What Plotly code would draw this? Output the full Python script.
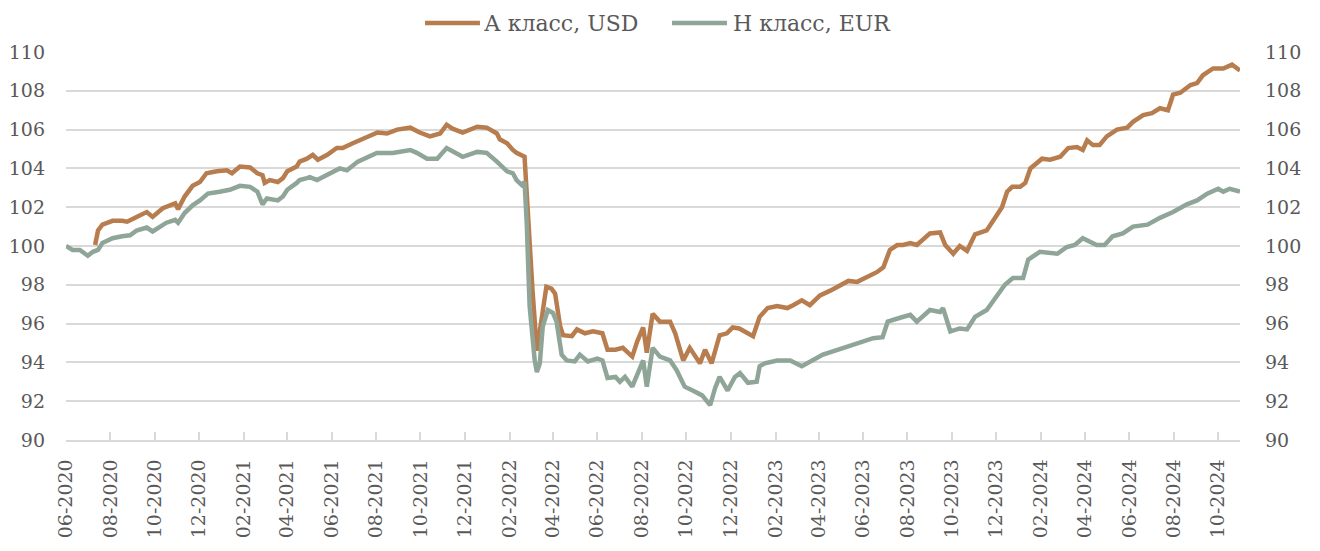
import plotly.graph_objects as go

# ---- data ----
a_dates = ["2020-07-11","2020-07-15","2020-07-21","2020-08-04","2020-08-17","2020-08-24","2020-09-06","2020-09-20","2020-09-28",
           "2020-10-12","2020-10-29","2020-11-02","2020-11-11","2020-11-22","2020-12-02","2020-12-11","2020-12-25",
           "2021-01-08","2021-01-15","2021-01-26","2021-02-09","2021-02-19","2021-02-26","2021-03-01","2021-03-08","2021-03-19","2021-03-26",
           "2021-04-01","2021-04-14","2021-04-18","2021-04-28","2021-05-06","2021-05-13","2021-05-26","2021-06-08","2021-06-16","2021-06-30",
           "2021-07-14","2021-08-03","2021-08-16","2021-08-30","2021-09-17","2021-09-30","2021-10-14","2021-10-28","2021-11-06","2021-11-14",
           "2021-11-28","2021-12-18","2021-12-31","2022-01-14","2022-01-18","2022-01-28","2022-02-05","2022-02-10","2022-02-21","2022-02-25",
           "2022-03-04","2022-03-10","2022-03-17","2022-03-23","2022-03-30","2022-04-04","2022-04-11","2022-04-15","2022-04-27","2022-05-04",
           "2022-05-15","2022-05-26","2022-06-08","2022-06-15","2022-06-26","2022-07-06","2022-07-19","2022-07-26","2022-08-03","2022-08-08",
           "2022-08-16","2022-08-26","2022-09-09","2022-09-16","2022-09-27","2022-10-06","2022-10-20","2022-10-27","2022-11-05","2022-11-16",
           "2022-11-26","2022-12-04","2022-12-13","2023-01-01","2023-01-10","2023-01-21","2023-02-03","2023-02-17","2023-02-25","2023-03-09",
           "2023-03-20","2023-04-03","2023-04-17","2023-05-01","2023-05-12","2023-05-24","2023-06-07","2023-06-20","2023-06-29","2023-07-08",
           "2023-07-18","2023-07-26","2023-08-05","2023-08-14","2023-09-01","2023-09-15","2023-09-22","2023-10-03","2023-10-12","2023-10-22",
           "2023-11-02","2023-11-13","2023-11-18","2023-12-02","2023-12-09","2023-12-16","2023-12-23","2024-01-03","2024-01-10","2024-01-17",
           "2024-02-02","2024-02-13","2024-02-27","2024-03-09","2024-03-21","2024-03-29","2024-04-04","2024-04-12","2024-04-21","2024-05-01",
           "2024-05-15","2024-05-29","2024-06-06","2024-06-20","2024-07-02","2024-07-13","2024-07-24","2024-07-31","2024-08-10","2024-08-24",
           "2024-09-02","2024-09-10","2024-09-24","2024-10-08","2024-10-20","2024-10-31"]
a_values = [100.05,100.8,101.1,101.3,101.3,101.25,101.5,101.75,101.5,
            101.95,102.2,101.9,102.55,103.1,103.3,103.75,103.85,
            103.9,103.75,104.1,104.05,103.75,103.65,103.25,103.4,103.3,103.5,
            103.85,104.1,104.35,104.5,104.7,104.45,104.7,105.05,105.05,105.3,
            105.55,105.85,105.8,106.0,106.1,105.85,105.65,105.8,106.25,106.05,
            105.85,106.15,106.1,105.8,105.5,105.3,104.95,104.8,104.6,102.0,
            97.7,94.6,96.2,97.9,97.8,97.55,95.85,95.4,95.35,95.7,
            95.5,95.6,95.5,94.65,94.65,94.75,94.3,95.1,95.8,94.5,
            96.5,96.1,96.1,95.5,94.1,94.75,93.95,94.65,93.95,95.4,
            95.5,95.8,95.75,95.35,96.35,96.8,96.9,96.8,96.95,97.2,
            96.95,97.45,97.7,97.95,98.2,98.15,98.4,98.65,98.9,99.8,
            100.05,100.05,100.15,100.05,100.65,100.7,100.05,99.6,100.0,99.75,
            100.6,100.75,100.8,101.6,102.0,102.8,103.05,103.05,103.25,104.0,
            104.5,104.45,104.6,105.05,105.1,104.95,105.45,105.2,105.2,105.65,
            106.0,106.1,106.4,106.75,106.85,107.1,107.0,107.8,107.9,108.3,
            108.4,108.8,109.15,109.15,109.35,109.05]

h_dates = ["2020-06-01","2020-06-10","2020-06-20","2020-07-01","2020-07-08","2020-07-15","2020-07-21","2020-08-04","2020-08-17","2020-08-28",
           "2020-09-06","2020-09-20","2020-09-28","2020-10-17","2020-10-29","2020-11-02","2020-11-11","2020-11-22","2020-12-02","2020-12-13",
           "2020-12-29","2021-01-12","2021-01-26","2021-02-09","2021-02-19","2021-02-26","2021-03-04","2021-03-19","2021-03-26","2021-04-01",
           "2021-04-14","2021-04-18","2021-04-28","2021-05-02","2021-05-12","2021-05-26","2021-06-12","2021-06-22","2021-07-07","2021-08-02",
           "2021-08-24","2021-09-17","2021-09-26","2021-10-10","2021-10-24","2021-11-06","2021-11-20","2021-11-28","2021-12-18","2021-12-31",
           "2022-01-14","2022-01-28","2022-02-05","2022-02-10","2022-02-17","2022-02-21","2022-02-24","2022-02-28","2022-03-07","2022-03-10",
           "2022-03-14","2022-03-18","2022-03-25","2022-04-01","2022-04-06","2022-04-13","2022-04-20","2022-05-01","2022-05-08","2022-05-19",
           "2022-06-01","2022-06-08","2022-06-15","2022-06-26","2022-07-02","2022-07-09","2022-07-19","2022-07-26","2022-08-03","2022-08-08",
           "2022-08-16","2022-08-26","2022-09-09","2022-09-18","2022-09-29","2022-10-10","2022-10-23","2022-11-03","2022-11-10","2022-11-16",
           "2022-11-27","2022-12-07","2022-12-14","2022-12-25","2023-01-06","2023-01-10","2023-01-17","2023-02-03","2023-02-21","2023-03-09",
           "2023-03-20","2023-04-07","2023-04-27","2023-05-10","2023-05-28","2023-06-15","2023-06-28","2023-07-05","2023-07-22","2023-08-05",
           "2023-08-14","2023-09-01","2023-09-15","2023-09-19","2023-09-29","2023-10-12","2023-10-22","2023-11-02","2023-11-18","2023-12-02",
           "2023-12-13","2023-12-24","2024-01-07","2024-01-14","2024-01-30","2024-02-23","2024-03-07","2024-03-18","2024-03-29","2024-04-17",
           "2024-04-28","2024-05-09","2024-05-23","2024-06-06","2024-06-26","2024-07-13","2024-07-31","2024-08-19","2024-09-02","2024-09-16",
           "2024-10-01","2024-10-08","2024-10-17","2024-10-31"]
h_values = [100.0,99.8,99.8,99.5,99.7,99.8,100.15,100.4,100.5,100.55,
            100.8,100.95,100.75,101.2,101.35,101.2,101.7,102.1,102.35,102.7,
            102.8,102.9,103.1,103.05,102.8,102.15,102.45,102.35,102.55,102.9,
            103.25,103.4,103.5,103.55,103.4,103.65,104.0,103.9,104.35,104.8,
            104.8,104.95,104.8,104.5,104.5,105.05,104.8,104.6,104.85,104.8,
            104.35,103.85,103.75,103.4,103.15,103.3,101.2,96.9,94.1,93.5,
            93.95,95.85,96.7,96.55,96.1,94.4,94.1,94.05,94.4,94.05,
            94.2,94.1,93.2,93.25,93.0,93.25,92.75,93.45,94.1,92.75,
            94.75,94.3,94.1,93.6,92.75,92.55,92.3,91.8,92.7,93.25,
            92.55,93.25,93.45,92.95,93.0,93.8,93.95,94.1,94.1,93.8,
            94.05,94.4,94.65,94.8,95.0,95.25,95.3,96.1,96.3,96.45,
            96.1,96.7,96.6,96.8,95.6,95.75,95.7,96.35,96.7,97.4,
            98.0,98.35,98.35,99.3,99.7,99.6,99.95,100.05,100.4,100.05,
            100.05,100.5,100.65,101.0,101.1,101.45,101.75,102.15,102.35,102.7,
            102.95,102.8,102.95,102.8]

series_names = ["А класс, USD", "H класс, EUR"]
x_tickvals = ["2020-06-01","2020-08-01","2020-10-01","2020-12-01","2021-02-01","2021-04-01","2021-06-01","2021-08-01",
              "2021-10-01","2021-12-01","2022-02-01","2022-04-01","2022-06-01","2022-08-01","2022-10-01","2022-12-01",
              "2023-02-01","2023-04-01","2023-06-01","2023-08-01","2023-10-01","2023-12-01","2024-02-01","2024-04-01",
              "2024-06-01","2024-08-01","2024-10-01"]
x_ticktext = ["06-2020","08-2020","10-2020","12-2020","02-2021","04-2021","06-2021","08-2021",
              "10-2021","12-2021","02-2022","04-2022","06-2022","08-2022","10-2022","12-2022",
              "02-2023","04-2023","06-2023","08-2023","10-2023","12-2023","02-2024","04-2024",
              "06-2024","08-2024","10-2024"]
y_ticks = [90, 92, 94, 96, 98, 100, 102, 104, 106, 108, 110]

COL_A = "#B87D4E"
COL_H = "#8FA597"
TXT = "#595959"
GRID = "#D9D9D9"
FONT = "DejaVu Serif"
colors = [COL_A, COL_H]

fig = go.Figure()
fig.add_trace(go.Scatter(x=a_dates, y=a_values, name=series_names[0], mode="lines",
                         line=dict(color=COL_A, width=4.5)))
fig.add_trace(go.Scatter(x=h_dates, y=h_values, name=series_names[1], mode="lines",
                         line=dict(color=COL_H, width=4.5), yaxis="y2"))

# manual legend (line swatch + label) placed above the plot area
LEG_Y = 1.0747
swatches = [(0.3058, 0.3526, 0.3552), (0.5162, 0.5630, 0.5673)]
shapes = []
annotations = []
for (x0, x1, xt), name, col in zip(swatches, series_names, colors):
    shapes.append(dict(type="line", xref="paper", yref="paper", x0=x0, x1=x1, y0=LEG_Y, y1=LEG_Y,
                       line=dict(color=col, width=4.5)))
    annotations.append(dict(xref="paper", yref="paper", x=xt, y=LEG_Y, xanchor="left", yanchor="middle",
                            text=name, showarrow=False, borderpad=0,
                            font=dict(family=FONT, size=22, color=TXT)))

# page body has an 8px margin; figure size/margins compensate so the plot area lands where the reference has it
fig.update_layout(
    width=1304, height=535,
    margin=dict(l=58, r=72, t=44, b=103, autoexpand=False),
    plot_bgcolor="white", paper_bgcolor="white",
    font=dict(family=FONT, size=19, color=TXT),
    showlegend=False,
    shapes=shapes, annotations=annotations,
    xaxis=dict(type="date", range=["2020-06-01", "2024-10-31"],
               tickvals=x_tickvals, ticktext=x_ticktext, tickangle=-90,
               showgrid=False, showline=True, linecolor=GRID, linewidth=1.5,
               ticks="inside", ticklen=8, tickcolor=GRID, tickwidth=1.5,
               ticklabelstandoff=10, zeroline=False,
               tickfont=dict(family=FONT, size=19, color=TXT)),
    yaxis=dict(range=[90, 110], tickvals=y_ticks, showgrid=True, gridcolor=GRID, gridwidth=1.5,
               zeroline=False, showline=False, ticks="", ticklabelstandoff=20,
               tickfont=dict(family=FONT, size=19, color=TXT)),
    yaxis2=dict(range=[90, 110], tickvals=y_ticks, overlaying="y", side="right", showgrid=False,
                zeroline=False, showline=False, ticks="", ticklabelstandoff=24,
                tickfont=dict(family=FONT, size=19, color=TXT)),
)

fig.write_html("out.html")
